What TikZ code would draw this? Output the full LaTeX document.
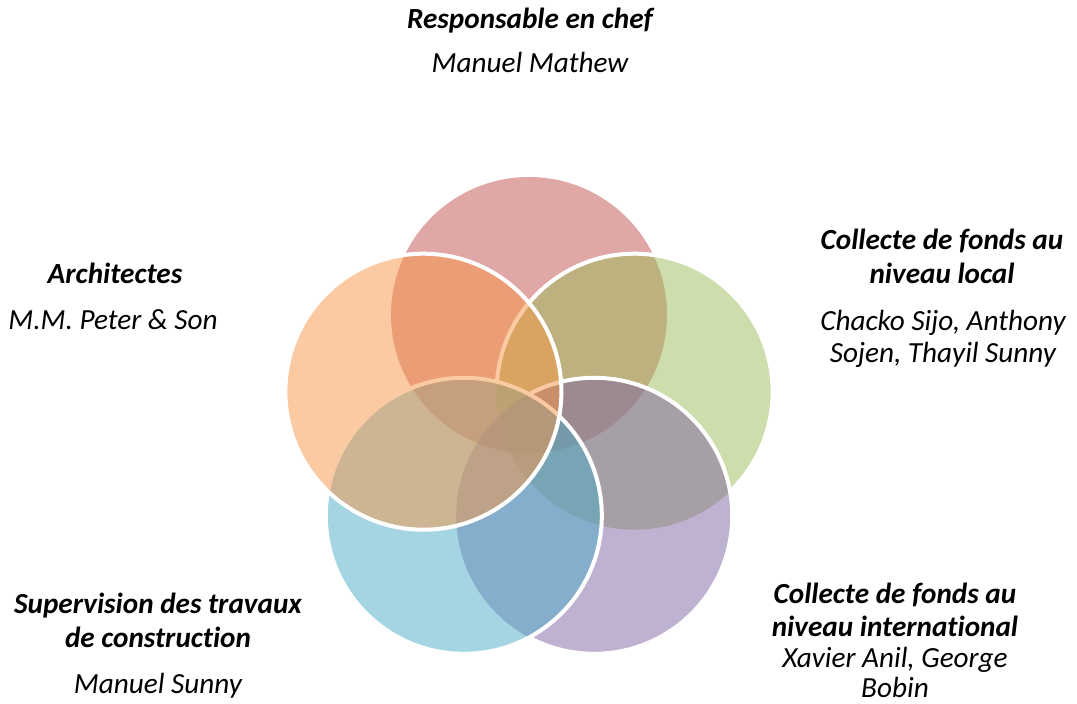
\documentclass[tikz,border=0pt]{standalone}
\usepackage{fontspec}
\setmainfont{Carlito}[Ligatures={NoCommon}]
\definecolor{cRed}{HTML}{C0504D}
\definecolor{cGreen}{HTML}{9BBB59}
\definecolor{cPurple}{HTML}{8064A2}
\definecolor{cBlue}{HTML}{4BACC6}
\definecolor{cOrange}{HTML}{F79646}
\tikzset{
  venn/.style={fill opacity=0.5},
  whiteborder/.style={draw=white, line width=4pt},
  ttl/.style={font=\bfseries\itshape\fontsize{29.2}{34}\selectfont, anchor=base, inner sep=0pt},
  nm/.style={font=\itshape\fontsize{29.2}{34}\selectfont, anchor=base, inner sep=0pt},
}
\begin{document}
\begin{tikzpicture}[x=1pt,y=-1pt]
\useasboundingbox (0,0) rectangle (1077,704);
\coordinate (cR) at (529,315);
\coordinate (cG) at (634.6,391.7);
\coordinate (cP) at (594.2,515.8);
\coordinate (cB) at (463.8,515.8);
\coordinate (cO) at (423.4,391.7);
% red
\fill[cRed, venn] (cR) circle (138pt);
% green
\fill[cGreen, venn] (cG) circle (138pt);
\begin{scope}[even odd rule]
  \clip (0,0) rectangle (1077,704) (cP) circle (138pt);
  \begin{scope}[even odd rule]
    \clip (0,0) rectangle (1077,704) (cB) circle (138pt);
    \draw[whiteborder] (cG) circle (138pt);
  \end{scope}
\end{scope}
% purple
\fill[cPurple, venn] (cP) circle (138pt);
\begin{scope}[even odd rule]
  \clip (0,0) rectangle (1077,704) (cB) circle (138pt);
  \draw[whiteborder] (cP) circle (138pt);
\end{scope}
% blue
\fill[cBlue, venn] (cB) circle (138pt);
\draw[whiteborder] (cB) circle (138pt);
% orange
\fill[cOrange, venn] (cO) circle (138pt);
\draw[whiteborder] (cO) circle (138pt);

% texts
\node[ttl] (t1) at (530,28) {Responsable en chef};
\node[nm] (n1) at (530,72) {Manuel Mathew};

\node[ttl] (t2a) at (942,249) {Collecte de fonds au};
\node[ttl] (t2b) at (942,283) {niveau local};
\node[nm] (n2a) at (943,330) {Chacko Sijo, Anthony};
\node[nm] (n2b) at (943,362) {Sojen, Thayil Sunny};

\node[ttl] (t3) at (115,283) {Architectes};
\node[nm] (n3) at (113,329) {M.M. Peter \& Son};

\node[ttl] (t4a) at (158,613) {Supervision des travaux};
\node[ttl] (t4b) at (158,647) {de construct\kern0pt ion};
\node[nm] (n4) at (158,693) {Manuel Sunny};

\node[ttl] (t5a) at (895,603) {Collecte de fonds au};
\node[ttl] (t5b) at (895,636) {niveau internat\kern0pt ional};
\node[nm] (n5a) at (895,667) {Xavier Anil, George};
\node[nm] (n5b) at (895,697) {Bobin};
\end{tikzpicture}
\end{document}
